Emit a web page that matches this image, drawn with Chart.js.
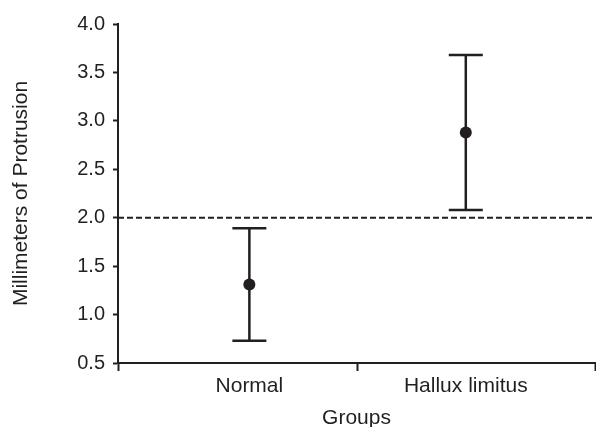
<!DOCTYPE html>
<html>
<head>
<meta charset="utf-8">
<script src="https://cdn.jsdelivr.net/npm/chart.js@4"></script>
<style>
  html, body { margin: 0; padding: 0; background: #fff; overflow: hidden; }
  canvas { display: block; }
</style>
</head>
<body>
<canvas id="errChart" width="596" height="427"></canvas>
<script>
// values
const groups = ['Normal', 'Hallux limitus'];
const means = [1.31, 2.88];
const lower = [0.73, 2.08];
const upper = [1.89, 3.68];
const threshold = 2.0;
const yTicks = [0.5, 1.0, 1.5, 2.0, 2.5, 3.0, 3.5, 4.0];

const INK = '#231f20';
const X_MIN = -0.607, X_MAX = 1.597;

Chart.defaults.font.family = "'Liberation Sans', Arial, sans-serif";
Chart.defaults.color = INK;

const whiskers = groups.map((g, i) => ({
    type: 'scatter',
    data: [{x: i, y: lower[i]}, {x: i, y: upper[i]}],
    showLine: true,
    borderColor: INK,
    borderWidth: 2.5,
    pointRadius: 0
}));

new Chart(document.getElementById('errChart').getContext('2d'), {
    type: 'scatter',
    data: {
        datasets: [
            {
                data: groups.map((g, i) => ({x: i, y: means[i]})),
                pointStyle: 'circle',
                pointRadius: 6,
                backgroundColor: INK,
                borderColor: INK,
                borderWidth: 0
            },
            {
                data: groups.flatMap((g, i) => [{x: i, y: lower[i]}, {x: i, y: upper[i]}]),
                pointStyle: 'line',
                pointRadius: 17,
                borderColor: INK,
                borderWidth: 2.5
            },
            ...whiskers,
            {
                type: 'line',
                data: [{x: X_MIN, y: threshold}, {x: X_MAX, y: threshold}],
                borderColor: INK,
                borderWidth: 2,
                borderDash: [6, 3],
                pointRadius: 0,
                clip: false
            }
        ]
    },
    options: {
        responsive: false,
        animation: false,
        events: [],
        layout: { autoPadding: false, padding: { top: 24, right: 1, left: 0, bottom: 0 } },
        plugins: { legend: { display: false }, tooltip: { enabled: false } },
        scales: {
            x: {
                type: 'linear',
                min: X_MIN,
                max: X_MAX,
                afterBuildTicks: s => { s.ticks = [X_MIN, 0, 0.5, 1, X_MAX].map(v => ({value: v})); },
                afterFit: s => { s.height = 64; s.paddingLeft = 0; s.paddingRight = 0; },
                border: { color: INK, width: 2 },
                grid: {
                    drawOnChartArea: false,
                    tickLength: 8,
                    tickWidth: 2,
                    tickColor: c => (c.tick && Number.isInteger(c.tick.value)) ? 'rgba(0,0,0,0)' : INK
                },
                ticks: {
                    autoSkip: false,
                    maxRotation: 0,
                    padding: 3,
                    font: { size: 21 },
                    callback: v => (Number.isInteger(v) && groups[v] !== undefined) ? groups[v] : ''
                },
                title: {
                    display: true,
                    text: 'Groups',
                    font: { size: 21, lineHeight: 1 },
                    padding: { top: 0, bottom: -2 }
                }
            },
            y: {
                min: 0.5,
                max: 4.0,
                afterBuildTicks: s => { s.ticks = yTicks.map(v => ({value: v})); },
                afterFit: s => { s.width = 118; },
                border: { color: INK, width: 2 },
                grid: { drawOnChartArea: false, tickLength: 5, tickWidth: 2, tickColor: INK },
                ticks: {
                    padding: 8,
                    font: { size: 20 },
                    callback: v => v.toFixed(1)
                },
                title: {
                    display: true,
                    text: 'Millimeters of Protrusion',
                    font: { size: 21 },
                    padding: { top: 9, bottom: 0 }
                }
            }
        }
    }
});
</script>
</body>
</html>
